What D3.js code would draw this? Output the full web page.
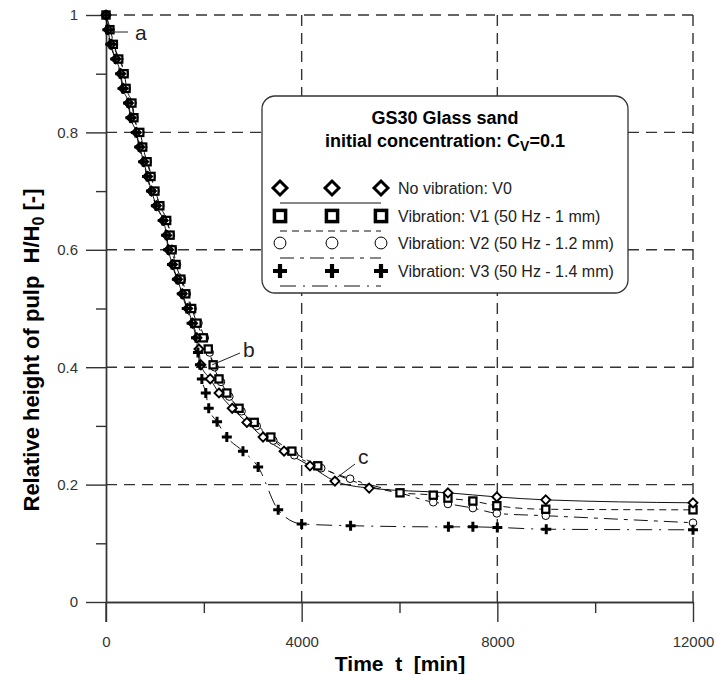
<!DOCTYPE html>
<html>
<head>
<meta charset="utf-8">
<script src="https://cdn.jsdelivr.net/npm/d3@7"></script>
<style>
  body { margin: 0; background: #fff; }
  text { font-family: "Liberation Sans", Arial, sans-serif; }
</style>
</head>
<body>
<div id="chart"></div>
<script>
// settling curves, time in minutes, relative height H/H0
const v0Time = [0, 40, 100, 200, 300, 350, 460, 510, 620, 690, 770, 850, 930, 1030, 1170, 1240, 1280, 1360, 1460, 1560, 1670, 1770, 1860,
  1900, 1940, 2130, 2310, 2580, 2880, 3210, 3640, 4170, 4680, 5380, 6990, 7990, 8990, 12000];
const v0Height = [1, .975, .95, .925, .9, .875, .85, .825, .8, .775, .75, .725, .7, .675, .65, .625, .6, .575, .55, .525, .5, .475, .45,
  .431, .404, .38, .356, .33, .306, .281, .257, .232, .206, .194, .186, .179, .174, .169];

const v1Time = [0, 80, 150, 260, 370, 410, 530, 570, 690, 750, 840, 920, 1000, 1100, 1240, 1310, 1350, 1430, 1530, 1630, 1750, 1860, 1990,
  2090, 2190, 2310, 2470, 2720, 3030, 3370, 3800, 4330, 6010, 6690, 6990, 7500, 7990, 8990, 12000];
const v1Height = [1, .975, .95, .925, .9, .875, .85, .825, .8, .775, .75, .725, .7, .675, .65, .625, .6, .575, .55, .525, .5, .475, .45,
  .431, .404, .38, .356, .33, .306, .281, .257, .232, .186, .182, .177, .172, .164, .158, .157];

const v2Time = [0, 90, 160, 270, 380, 420, 540, 580, 700, 760, 850, 930, 1010, 1110, 1250, 1320, 1370, 1450, 1550, 1650, 1770, 1890, 2020,
  2120, 2220, 2350, 2520, 2770, 3080, 3420, 3850, 4400, 4990, 6010, 6690, 6990, 7500, 7990, 8990, 12000];
const v2Height = [1, .975, .95, .925, .9, .875, .85, .825, .8, .775, .75, .725, .7, .675, .65, .625, .6, .575, .55, .525, .5, .475, .45,
  .425, .4, .375, .35, .325, .3, .275, .25, .228, .21, .186, .17, .167, .16, .151, .147, .135];

const v3Time = [0, 30, 90, 190, 290, 340, 450, 500, 610, 680, 760, 840, 920, 1020, 1160, 1230, 1270, 1350, 1450, 1550, 1650, 1750, 1840,
  1880, 1920, 1960, 2040, 2100, 2270, 2470, 2800, 3110, 3520, 4000, 5000, 7000, 7500, 8000, 9000, 12000];
const v3Height = [1, .975, .95, .925, .9, .875, .85, .825, .8, .775, .75, .725, .7, .675, .65, .625, .6, .575, .55, .525, .5, .475, .45,
  .425, .404, .38, .356, .33, .307, .281, .257, .23, .157, .133, .13, .128, .128, .127, .124, .123];

const seriesNames = ["No vibration: V0", "Vibration: V1 (50 Hz - 1 mm)", "Vibration: V2 (50 Hz - 1.2 mm)", "Vibration: V3 (50 Hz - 1.4 mm)"];
const xMajor = [0, 4000, 8000, 12000];
const xMinor = [2000, 6000, 10000];
const yMajor = [0, 0.2, 0.4, 0.6, 0.8, 1];
const yMinor = [0.1, 0.3, 0.5, 0.7, 0.9];

const width = 717, height = 674;
const svg = d3.select("#chart").append("svg")
    .attr("width", width)
    .attr("height", height);

const x = d3.scaleLinear().domain([0, 12000]).range([106, 693]);
const y = d3.scaleLinear().domain([0, 1]).range([602, 15]);
const axisColor = "#333";

// dashed grid
svg.append("g").selectAll("line")
    .data(yMajor.filter(d => d > 0))
    .enter().append("line")
    .attr("x1", x(0)).attr("x2", x(12000))
    .attr("y1", d => y(d)).attr("y2", d => y(d))
    .attr("stroke", "#333").attr("stroke-width", 1.4)
    .attr("stroke-dasharray", "11,7");
svg.append("g").selectAll("line")
    .data(xMajor.filter(d => d > 0))
    .enter().append("line")
    .attr("y1", y(0)).attr("y2", y(1))
    .attr("x1", d => x(d)).attr("x2", d => x(d))
    .attr("stroke", "#333").attr("stroke-width", 1.4)
    .attr("stroke-dasharray", "11,7");

// axes
svg.append("g")
    .attr("transform", "translate(0," + y(0) + ")")
    .call(d3.axisBottom(x).tickValues(xMajor).tickSize(20).tickSizeOuter(0).tickPadding(14).tickFormat(d3.format("d")));
svg.append("g")
    .attr("transform", "translate(0," + y(0) + ")")
    .call(d3.axisBottom(x).tickValues(xMinor).tickSize(11).tickSizeOuter(0).tickFormat(""));
svg.append("g")
    .attr("transform", "translate(" + x(0) + ",0)")
    .call(d3.axisLeft(y).tickValues(yMajor).tickSize(20).tickSizeOuter(0).tickPadding(8).tickFormat(d3.format("")));
svg.append("g")
    .attr("transform", "translate(" + x(0) + ",0)")
    .call(d3.axisLeft(y).tickValues(yMinor).tickSize(10).tickSizeOuter(0).tickFormat(""));
svg.selectAll(".domain, .tick line").attr("stroke", axisColor).attr("stroke-width", 1.4);
svg.selectAll(".tick text").attr("font-size", 15).attr("fill", "#333")
    .style("font-family", "'Liberation Sans', Arial, sans-serif");
// y axis continues below the x axis
svg.append("line")
    .attr("x1", x(0)).attr("x2", x(0))
    .attr("y1", y(0)).attr("y2", y(0) + 20)
    .attr("stroke", axisColor).attr("stroke-width", 1.4);

// curves
const series = [
  { t: v0Time, h: v0Height, dash: null, marker: "diamond" },
  { t: v1Time, h: v1Height, dash: "7,5", marker: "square" },
  { t: v2Time, h: v2Height, dash: "14,6,4,6", marker: "circle" },
  { t: v3Time, h: v3Height, dash: "16,7,2,7", marker: "plus" }
];
series.forEach(s => { s.data = s.t.map((t, i) => ({ t: t, h: s.h[i] })); });

const line = d3.line()
    .x(d => x(d.t))
    .y(d => y(d.h))
    .curve(d3.curveMonotoneX);

svg.append("g").selectAll("path")
    .data(series)
    .enter().append("path")
    .attr("d", s => line(s.data))
    .attr("fill", "none")
    .attr("stroke", "#111")
    .attr("stroke-width", 1)
    .attr("stroke-dasharray", s => s.dash);

function drawMarker(sel, kind, r) {
  if (kind === "diamond") {
    sel.append("path").attr("d", `M0,${-r}L${r},0L0,${r}L${-r},0Z`)
      .attr("fill", "#fff").attr("stroke", "#000").attr("stroke-width", r * 0.42);
  } else if (kind === "square") {
    sel.append("rect").attr("x", -r * 0.8).attr("y", -r * 0.8).attr("width", r * 1.6).attr("height", r * 1.6)
      .attr("fill", "#fff").attr("stroke", "#000").attr("stroke-width", r * 0.5);
  } else if (kind === "circle") {
    sel.append("circle").attr("r", r * 0.85)
      .attr("fill", "#fff").attr("stroke", "#000").attr("stroke-width", 1);
  } else {
    sel.append("path").attr("d", `M${-r},0H${r}M0,${-r}V${r}`)
      .attr("stroke", "#000").attr("stroke-width", r * 0.6);
  }
}

// markers: circles below, pluses on top
[2, 1, 0, 3].forEach(k => {
  const s = series[k];
  svg.append("g").selectAll("g")
    .data(s.data)
    .enter().append("g")
    .attr("transform", d => "translate(" + x(d.t) + "," + y(d.h) + ")")
    .each(function () { drawMarker(d3.select(this), s.marker, k === 3 ? 5 : 4.5); });
});

// annotation letters
const notes = [
  { label: "a", t: 120, h: 0.971, tx: 135, ty: 40, px: 128, py: 32 },
  { label: "b", t: 2170, h: 0.404, tx: 243, ty: 357, px: 240, py: 353 },
  { label: "c", t: 4690, h: 0.21, tx: 358, ty: 464, px: 355, py: 464 }
];
notes.forEach(n => {
  svg.append("line")
    .attr("x1", x(n.t)).attr("y1", y(n.h))
    .attr("x2", n.px).attr("y2", n.py)
    .attr("stroke", "#222").attr("stroke-width", 1);
  svg.append("text")
    .attr("x", n.tx).attr("y", n.ty)
    .attr("font-size", 21).attr("fill", "#222")
    .text(n.label);
});

// legend box
const lg = svg.append("g");
lg.append("rect")
    .attr("x", 262).attr("y", 96).attr("width", 366).attr("height", 197)
    .attr("rx", 13)
    .attr("fill", "#fff").attr("stroke", "#333").attr("stroke-width", 1.3);
lg.append("text").attr("x", 445).attr("y", 124).attr("text-anchor", "middle")
    .attr("font-size", 18).attr("font-weight", "bold").text("GS30 Glass sand");
const t2 = lg.append("text").attr("x", 445).attr("y", 147).attr("text-anchor", "middle")
    .attr("font-size", 18).attr("font-weight", "bold");
t2.append("tspan").text("initial concentration: C");
t2.append("tspan").attr("font-size", 14).attr("dy", 4).text("V");
t2.append("tspan").attr("dy", -4).text("=0.1");

const rowY = [188, 216, 243, 271];
const markX = [280, 332, 381];
series.forEach((s, i) => {
  lg.append("line")
    .attr("x1", 280).attr("x2", 381)
    .attr("y1", rowY[i] + 15).attr("y2", rowY[i] + 15)
    .attr("stroke", "#111").attr("stroke-width", 1)
    .attr("stroke-dasharray", s.dash);
  markX.forEach(mx => {
    const g = lg.append("g").attr("transform", "translate(" + mx + "," + rowY[i] + ")");
    drawMarker(g, s.marker, 7);
  });
  lg.append("text").attr("x", 398).attr("y", rowY[i] + 6)
    .attr("font-size", 16).attr("fill", "#222").text(seriesNames[i]);
});

// axis titles
svg.append("text")
    .attr("x", 400).attr("y", 671)
    .attr("text-anchor", "middle")
    .attr("font-size", 21).attr("font-weight", "bold")
    .attr("xml:space", "preserve")
    .text("Time  t  [min]");
const yt = svg.append("text")
    .attr("transform", "translate(39,350) rotate(-90)")
    .attr("text-anchor", "middle")
    .attr("font-size", 22).attr("font-weight", "bold")
    .attr("xml:space", "preserve");
yt.append("tspan").text("Relative height of pulp  H/H");
yt.append("tspan").attr("font-size", 16).attr("dy", 5).text("0");
yt.append("tspan").attr("dy", -5).text(" [-]");
</script>
</body>
</html>
